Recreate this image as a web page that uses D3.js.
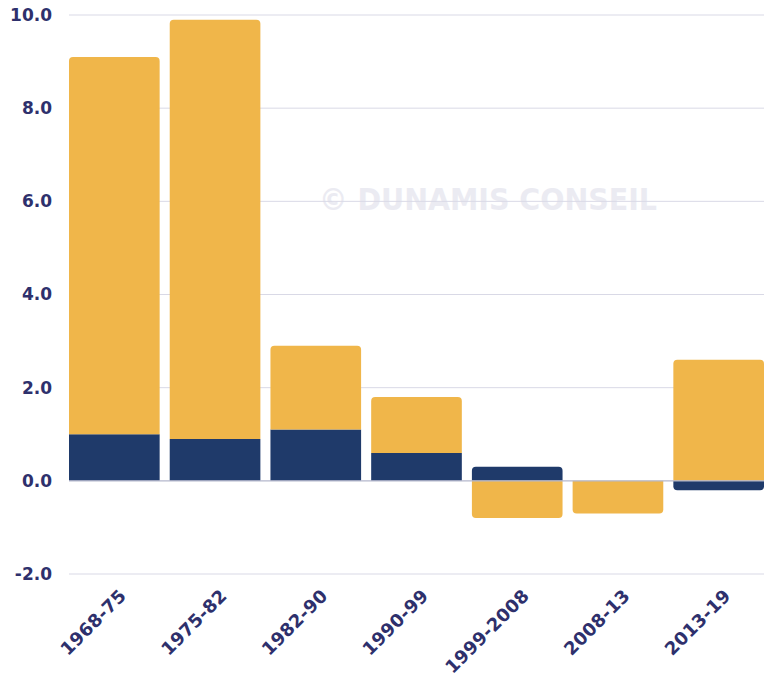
<!DOCTYPE html>
<html>
<head>
<meta charset="utf-8">
<script src="https://cdn.jsdelivr.net/npm/d3@7"></script>
<style>
  html, body { margin: 0; padding: 0; background: #fff; }
  svg { display: block; }
  text { font-family: "DejaVu Sans", sans-serif; font-weight: 700; }
</style>
</head>
<body>
<svg id="chart" width="764" height="679"></svg>
<script>
const categories = ["1968-75", "1975-82", "1982-90", "1990-99", "1999-2008", "2008-13", "2013-19"];
const navyValues = [1.0, 0.9, 1.1, 0.6, 0.3, 0.0, -0.2];
const yellowValues = [8.1, 9.0, 1.8, 1.2, -0.8, -0.7, 2.6];
const yTicks = [-2, 0, 2, 4, 6, 8, 10];
const seriesKeys = ["navy", "yellow"];
const seriesColors = { navy: "#1f3a6a", yellow: "#f0b64a" };

const W = 764, H = 679;
const mLeft = 69, mRight = 764, mTop = 15, mBottom = 574;
const svg = d3.select("#chart");
const FONT = '"DejaVu Sans", sans-serif';
const TXT = "#2e306c";

const x = d3.scaleBand().domain(categories).range([mLeft, mRight]).paddingInner(0.1).paddingOuter(0);
const y = d3.scaleLinear().domain([-2, 10]).range([mBottom, mTop]);

// watermark
svg.append("text")
  .attr("x", 488).attr("y", 210)
  .attr("text-anchor", "middle")
  .attr("font-size", 30)
  .attr("font-family", FONT).attr("font-weight", 700)
  .attr("fill", "#ebebf2")
  .attr("textLength", 338).attr("lengthAdjust", "spacingAndGlyphs")
  .text("© DUNAMIS CONSEIL");

// grid
svg.append("g").selectAll("line").data(yTicks.filter(d => d !== 0)).join("line")
  .attr("x1", mLeft).attr("x2", mRight)
  .attr("y1", d => y(d)).attr("y2", d => y(d))
  .attr("stroke", "#d9d9e6").attr("stroke-width", 1);

// y axis labels
const fmt = d3.formatLocale({ decimal: ".", thousands: ",", grouping: [3], currency: ["", ""], minus: "-" }).format(".1f");
const yAxis = d3.axisLeft(y).tickValues(yTicks).tickFormat(fmt).tickSize(0).tickPadding(0);
const ya = svg.append("g").attr("transform", `translate(52,0)`).call(yAxis);
ya.select(".domain").remove();
ya.selectAll("text").attr("font-size", 17).attr("fill", TXT)
  .attr("font-family", FONT).attr("font-weight", 700);

// data
const table = categories.map((c, i) => ({ cat: c, navy: navyValues[i], yellow: yellowValues[i] }));
const stack = d3.stack().keys(seriesKeys).offset(d3.stackOffsetDiverging);
const series = stack(table);

function barPath(x0, w, p0, p1, r) {
  const h = Math.abs(p1 - p0);
  r = Math.min(r, h, w / 2);
  if (p1 < p0) {
    return `M${x0},${p0}V${p1 + r}Q${x0},${p1} ${x0 + r},${p1}H${x0 + w - r}Q${x0 + w},${p1} ${x0 + w},${p1 + r}V${p0}Z`;
  } else {
    return `M${x0},${p0}V${p1 - r}Q${x0},${p1} ${x0 + r},${p1}H${x0 + w - r}Q${x0 + w},${p1} ${x0 + w},${p1 - r}V${p0}Z`;
  }
}

const segs = [];
series.forEach((s) => {
  s.forEach((d, i) => {
    const v = d.data[s.key];
    if (v === 0) return;
    segs.push({ key: s.key, i, v, y0: d[0], y1: d[1], cat: d.data.cat });
  });
});
segs.forEach(sg => {
  const sameDir = segs.filter(o => o.i === sg.i && Math.sign(o.v) === Math.sign(sg.v));
  const ext = sg.v > 0 ? d3.max(sameDir, o => o.y1) : d3.min(sameDir, o => o.y0);
  sg.outer = sg.v > 0 ? sg.y1 === ext : sg.y0 === ext;
});

svg.append("g").selectAll("path").data(segs).join("path")
  .attr("fill", d => seriesColors[d.key])
  .attr("d", d => {
    const x0 = x(d.cat), w = x.bandwidth();
    const base = d.v > 0 ? y(d.y0) : y(d.y1);
    const end = d.v > 0 ? y(d.y1) : y(d.y0);
    return barPath(x0, w, base, end, d.outer ? 4 : 0);
  });

// zero line
svg.append("line")
  .attr("x1", mLeft).attr("x2", mRight)
  .attr("y1", y(0)).attr("y2", y(0))
  .attr("stroke", "#b4b7cc").attr("stroke-width", 1.2);

// x axis labels
const xAxis = d3.axisBottom(x).tickSize(0).tickPadding(0);
const xa = svg.append("g").attr("transform", `translate(0,${mBottom})`).call(xAxis);
xa.select(".domain").remove();
xa.selectAll("text")
  .attr("font-size", 18).attr("fill", TXT)
  .attr("font-family", FONT).attr("font-weight", 700)
  .attr("letter-spacing", 0.2)
  .attr("text-anchor", "end")
  .attr("dy", null).attr("y", 0)
  .attr("transform", "translate(13,23) rotate(-45)");
</script>
</body>
</html>
